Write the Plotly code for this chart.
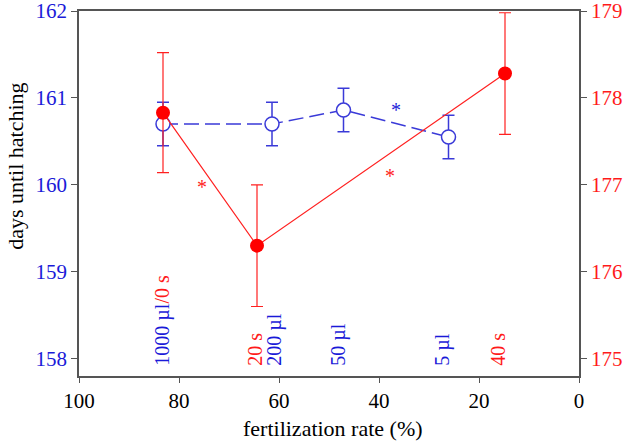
import plotly.graph_objects as go

# blue series: pipetted volume (left axis)
blue_x = [83.2, 61.4, 47.1, 26.1]
blue_y = [160.70, 160.70, 160.86, 160.55]
blue_err = [0.25, 0.25, 0.25, 0.25]

# red series: time delay (right axis)
red_x = [83.2, 64.4, 14.8]
red_y = [177.83, 176.30, 178.28]
red_err = [0.69, 0.70, 0.70]

# treatment labels (x position, rich text)
label_x = [83.2, 64.8, 60.8, 48.0, 27.2, 16.2]
label_txt = ["1000 µl<span style='color:#ff1a1a'>/0 s</span>", "20 s", "200 µl", "50 µl", "5 µl", "40 s"]
label_col = ["#1a1ad8", "#ff1a1a", "#1a1ad8", "#1a1ad8", "#1a1ad8", "#ff1a1a"]

# significance stars: (x, y on left axis, colour)
star_x = [75.4, 37.8, 36.6]
star_y = [159.98, 160.10, 160.86]
star_col = ["#ff1a1a", "#ff1a1a", "#1a1ad8"]

BLUE = "#3a3ad8"
RED = "#ff2020"
FONT = "Liberation Serif"

fig = go.Figure()
fig.add_trace(go.Scatter(
    x=blue_x, y=blue_y, mode="lines+markers", yaxis="y",
    line=dict(color=BLUE, width=1.5, dash="15px,6px"),
    marker=dict(symbol="circle", size=14, color="white", line=dict(color=BLUE, width=1.5)),
    error_y=dict(type="data", array=blue_err, color=BLUE, thickness=1.5, width=6),
    showlegend=False, hoverinfo="skip",
))
fig.add_trace(go.Scatter(
    x=red_x, y=red_y, mode="lines+markers", yaxis="y2",
    line=dict(color=RED, width=1.2),
    marker=dict(symbol="circle", size=14, color="#ff0000"),
    error_y=dict(type="data", array=red_err, color=RED, thickness=1.2, width=6),
    showlegend=False, hoverinfo="skip",
))

for x, t, c in zip(label_x, label_txt, label_col):
    fig.add_annotation(x=x, y=157.89, xref="x", yref="y", text=t, textangle=-90,
                       showarrow=False, xanchor="center", yanchor="bottom",
                       font=dict(family=FONT, size=20, color=c))
for x, y, c in zip(star_x, star_y, star_col):
    fig.add_annotation(x=x, y=y, xref="x", yref="y", text="*", showarrow=False,
                       font=dict(family=FONT, size=20, color=c))

# axis titles
fig.add_annotation(x=-0.126, y=0.573, xref="paper", yref="paper", text="days until hatching",
                   textangle=-90, showarrow=False, xanchor="center", yanchor="middle",
                   font=dict(family=FONT, size=22, color="black"))
fig.add_annotation(x=0.508, y=-0.145, xref="paper", yref="paper", text="fertilization rate (%)",
                   showarrow=False, xanchor="center", yanchor="middle",
                   font=dict(family=FONT, size=22, color="black"))

axcol = "#555555"
fig.update_layout(
    width=631, height=441,
    margin=dict(l=79, r=52, t=11, b=65),
    paper_bgcolor="white", plot_bgcolor="white",
    font=dict(family=FONT, size=16, color="black"),
    xaxis=dict(range=[100, 0], tickvals=[100, 80, 60, 40, 20, 0], showgrid=False, zeroline=False,
               showline=True, linecolor=axcol, linewidth=1.5, mirror=True, automargin=False,
               ticks="outside", ticklen=5, tickcolor=axcol, ticklabeloverflow="allow",
               tickfont=dict(family=FONT, size=21, color="black")),
    yaxis=dict(range=[157.8, 162], tickvals=[158, 159, 160, 161, 162], showgrid=False, zeroline=False,
               showline=True, linecolor=axcol, linewidth=1.5, automargin=False,
               ticks="outside", ticklen=6, tickcolor=axcol, ticklabeloverflow="allow",
               tickfont=dict(family=FONT, size=21, color="#1a1ad8")),
    yaxis2=dict(range=[174.8, 179], tickvals=[175, 176, 177, 178, 179], overlaying="y", side="right",
                showgrid=False, zeroline=False, automargin=False,
                showline=True, linecolor=axcol, linewidth=1.5,
                ticks="outside", ticklen=6, tickcolor=axcol, ticklabeloverflow="allow",
                tickfont=dict(family=FONT, size=21, color="#ff1a1a")),
)
fig.write_html("out.html", config={"displayModeBar": False},
               post_script="document.body.style.margin='0';document.body.style.padding='0';")
